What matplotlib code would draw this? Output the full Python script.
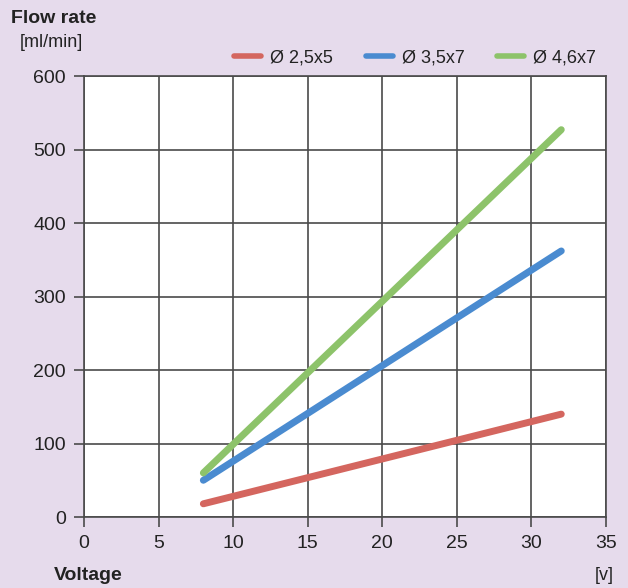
import matplotlib.pyplot as plt

plt.rcParams['font.family'] = ['Liberation Sans Narrow', 'Liberation Sans', 'DejaVu Sans']

# 데이터
voltage = [8, 32]
flow_25x5 = [18, 140]
flow_35x7 = [50, 362]
flow_46x7 = [60, 527]
labels = ['Ø 2,5x5', 'Ø 3,5x7', 'Ø 4,6x7']
colors = ['#d4665f', '#4a8bd0', '#8dc36a']
x_ticks = [0, 5, 10, 15, 20, 25, 30, 35]
y_ticks = [0, 100, 200, 300, 400, 500, 600]

bg = '#e6dbec'
fig = plt.figure(figsize=(6.28, 5.88), dpi=100, facecolor=bg)
ax = fig.add_axes([0.1338, 0.1207, 0.8312, 0.75])
ax.set_facecolor('white')

for y, lab, c in zip([flow_25x5, flow_35x7, flow_46x7], labels, colors):
    ax.plot(voltage, y, color=c, lw=5, solid_capstyle='round', label=lab, zorder=3)

ax.set_xlim(0, 35)
ax.set_ylim(0, 600)
ax.set_xticks(x_ticks)
ax.set_yticks(y_ticks)
ax.grid(True, color='#4a4a4a', lw=1.2)
for s in ax.spines.values():
    s.set_color('#4a4a4a')
    s.set_linewidth(1.2)
ax.tick_params(length=7, width=1.2, color='#4a4a4a', labelsize=14, labelcolor='#222222', pad=6)

fig.text(0.018, 0.968, 'Flow rate', fontsize=14, fontweight='bold', color='#222222', va='center')
fig.text(0.032, 0.927, '[ml/min]', fontsize=13, color='#222222', va='center')
fig.text(0.085, 0.022, 'Voltage', fontsize=14, fontweight='bold', color='#222222', va='center')
fig.text(0.978, 0.022, '[v]', fontsize=13, color='#222222', va='center', ha='right')

leg = ax.legend(loc='lower right', bbox_to_anchor=(1.0, 1.0), ncol=3, frameon=False,
                fontsize=13, handlelength=1.5, columnspacing=1.8, handletextpad=0.5,
                borderaxespad=0.15)
for t in leg.get_texts():
    t.set_color('#222222')
for h in leg.get_lines():
    h.set_linewidth(4)

fig.savefig('out.png', dpi=100, facecolor=bg)
